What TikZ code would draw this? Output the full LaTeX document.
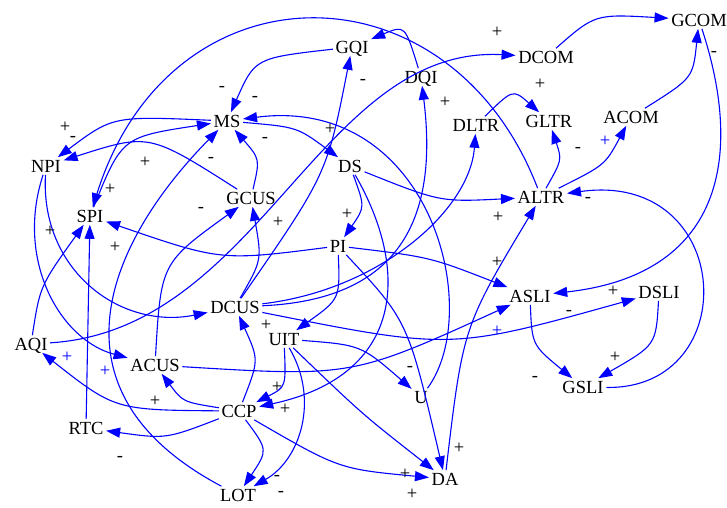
\documentclass[tikz,border=0pt]{standalone}
\usepackage{fontspec}
\setmainfont{Liberation Serif}
\usetikzlibrary{arrows.meta}
\begin{document}
\begin{tikzpicture}[x=1pt,y=-1pt,
    var/.style ={inner sep=2.5pt, text height=12.2pt, text depth=0pt, font=\fontsize{18.5}{20}\selectfont},
    link/.style ={blue, line width=1.1pt, -{Triangle[length=14pt,width=10pt]}},
    sgn/.style ={inner sep=0pt, text height=8pt, text depth=0pt, font=\fontsize{18.5}{20}\selectfont},
    sgnb/.style ={sgn, blue}]
   \useasboundingbox (0,0) rectangle (727,507);
   \node[var] (GCOM) at (699,20) {GCOM};
   \node[var] (DCOM) at (546,57) {DCOM};
   \node[var] (GQI)  at (352,47) {GQI};
   \node[var] (DQI)  at (421,77) {DQI};
   \node[var] (MS)   at (227,121) {MS};
   \node[var] (DLTR) at (476,125) {DLTR};
   \node[var] (GLTR) at (549,121) {GLTR};
   \node[var] (ACOM) at (631,117) {ACOM};
   \node[var] (NPI)  at (46,166) {NPI};
   \node[var] (DS)   at (350,166) {DS};
   \node[var] (GCUS) at (251,198) {GCUS};
   \node[var] (ALTR) at (541,197) {ALTR};
   \node[var] (SPI)  at (90,216) {SPI};
   \node[var] (PI)   at (338,246) {PI};
   \node[var] (ASLI) at (530,296) {ASLI};
   \node[var] (DSLI) at (659,292) {DSLI};
   \node[var] (DCUS) at (235,307) {DCUS};
   \node[var] (UIT)  at (284,339) {UIT};
   \node[var] (AQI)  at (31,344) {AQI};
   \node[var] (ACUS) at (155,365) {ACUS};
   \node[var] (GSLI) at (583,387) {GSLI};
   \node[var] (U)    at (421,397) {U};
   \node[var] (CCP)  at (239,411) {CCP};
   \node[var] (RTC)  at (86,428) {RTC};
   \node[var] (DA)   at (445,479) {DA};
   \node[var] (LOT)  at (238,495) {LOT};

   \draw[link] (DCOM) .. controls (595,14) .. (GCOM);
   \draw[link] (ACOM) .. controls (693,78) .. (GCOM);
   \draw[link] (GCOM) .. controls (745,160) and (720,275) .. (ASLI);
   \draw[link] (AQI) .. controls (260,330) and (320,45) .. (DCOM);
   \draw[link] (DLTR) .. controls (513,89) .. (GLTR);
   \draw[link] (ALTR) .. controls (562,160) .. (GLTR);
   \draw[link] (ALTR) .. controls (605,165) .. (ACOM);
   \draw[link] (GSLI) .. controls (745,390) and (735,170) .. (ALTR);
   \draw[link] (DS) .. controls (440,202) .. (ALTR);
   \draw[link] (DA) .. controls (463,327) .. (ALTR);
   \draw[link] (ALTR) .. controls (450,-40) and (170,-40) .. (SPI);
   \draw[link] (DQI) .. controls (405,25) .. (GQI);
   \draw[link] (GQI) .. controls (255,58) .. (MS);
   \draw[link] (DCUS) .. controls (327,174) .. (GQI);
   \draw[link] (U) .. controls (485,310) and (430,95) .. (MS);
   \draw[link] (SPI) .. controls (122,137) .. (MS);
   \draw[link] (LOT) .. controls (40,390) and (110,240) .. (MS);
   \draw[link] (GCUS) .. controls (260,159) .. (MS);
   \draw[link] (MS) .. controls (113,116) .. (NPI);
   \draw[link] (GCUS) .. controls (149,133) .. (NPI);
   \draw[link] (MS) .. controls (297,127) .. (DS);
   \draw[link] (DS) .. controls (365,207) .. (PI);
   \draw[link] (DS) .. controls (410,270) and (405,375) .. (CCP);
   \draw[link] (PI) .. controls (221,261) .. (SPI);
   \draw[link] (PI) .. controls (430,257) .. (ASLI);
   \draw[link] (PI) .. controls (340,299) .. (UIT);
   \draw[link] (PI) .. controls (408,321) .. (DA);
   \draw[link] (DCUS) .. controls (390,300) and (440,230) .. (DQI);
   \draw[link] (DCUS) .. controls (380,290) and (470,210) .. (DLTR);
   \draw[link] (DCUS) .. controls (451,350) .. (DSLI);
   \draw[link] (DCUS) .. controls (262,260) .. (GCUS);
   \draw[link] (ACUS) .. controls (161,263) .. (GCUS);
   \draw[link] (ACUS) .. controls (352,377) .. (ASLI);
   \draw[link] (NPI) .. controls (15,260) and (60,340) .. (ACUS);
   \draw[link] (NPI) .. controls (40,270) and (120,330) .. (DCUS);
   \draw[link] (AQI) .. controls (40,286) .. (SPI);
   \draw[link] (RTC) -- (SPI);
   \draw[link] (CCP) .. controls (259,360) .. (DCUS);
   \draw[link] (CCP) .. controls (183,402) .. (ACUS);
   \draw[link] (CCP) .. controls (115,410) .. (AQI);
   \draw[link] (CCP) .. controls (166,439) .. (RTC);
   \draw[link] (CCP) .. controls (268,450) .. (LOT);
   \draw[link] (CCP) .. controls (339,469) .. (DA);
   \draw[link] (UIT) .. controls (361,345) .. (U);
   \draw[link] (UIT) .. controls (286,387) .. (CCP);
   \draw[link] (UIT) .. controls (320,400) and (300,460) .. (LOT);
   \draw[link] (UIT) .. controls (362,414) .. (DA);
   \draw[link] (ASLI) .. controls (532,345) .. (GSLI);
   \draw[link] (DSLI) .. controls (656,345) .. (GSLI);

   \foreach \x/\y/\s [count=\i] in {497/33/+, 540/85/+, 578/148/-, 588/198/-,
       498/218/+, 497/263/+, 714/52/-, 569/311/-, 613/292/+, 615/358/+,
       535/377/-, 410/367/-, 459/449/+, 405/475/+, 412/495/+, 277/476/-,
       281/492/-, 277/388/+, 285/410/+, 266/326/+, 155/402/+, 120/457/-,
       50/232/+, 110/190/+, 115/248/+, 145/163/+, 211/158/-, 265/138/-,
       222/87/-, 255/97/-, 65/128/+, 73/137/-, 201/208/-, 278/223/+,
       330/130/+, 347/215/+, 363/80/-, 445/103/+}
     \node[sgn] (s\i) at (\x,\y) {\s};
   \foreach \x/\y [count=\i] in {605/142, 497/332, 67/358, 105/372}
     \node[sgnb] (b\i) at (\x,\y) {+};
\end{tikzpicture}
\end{document}
